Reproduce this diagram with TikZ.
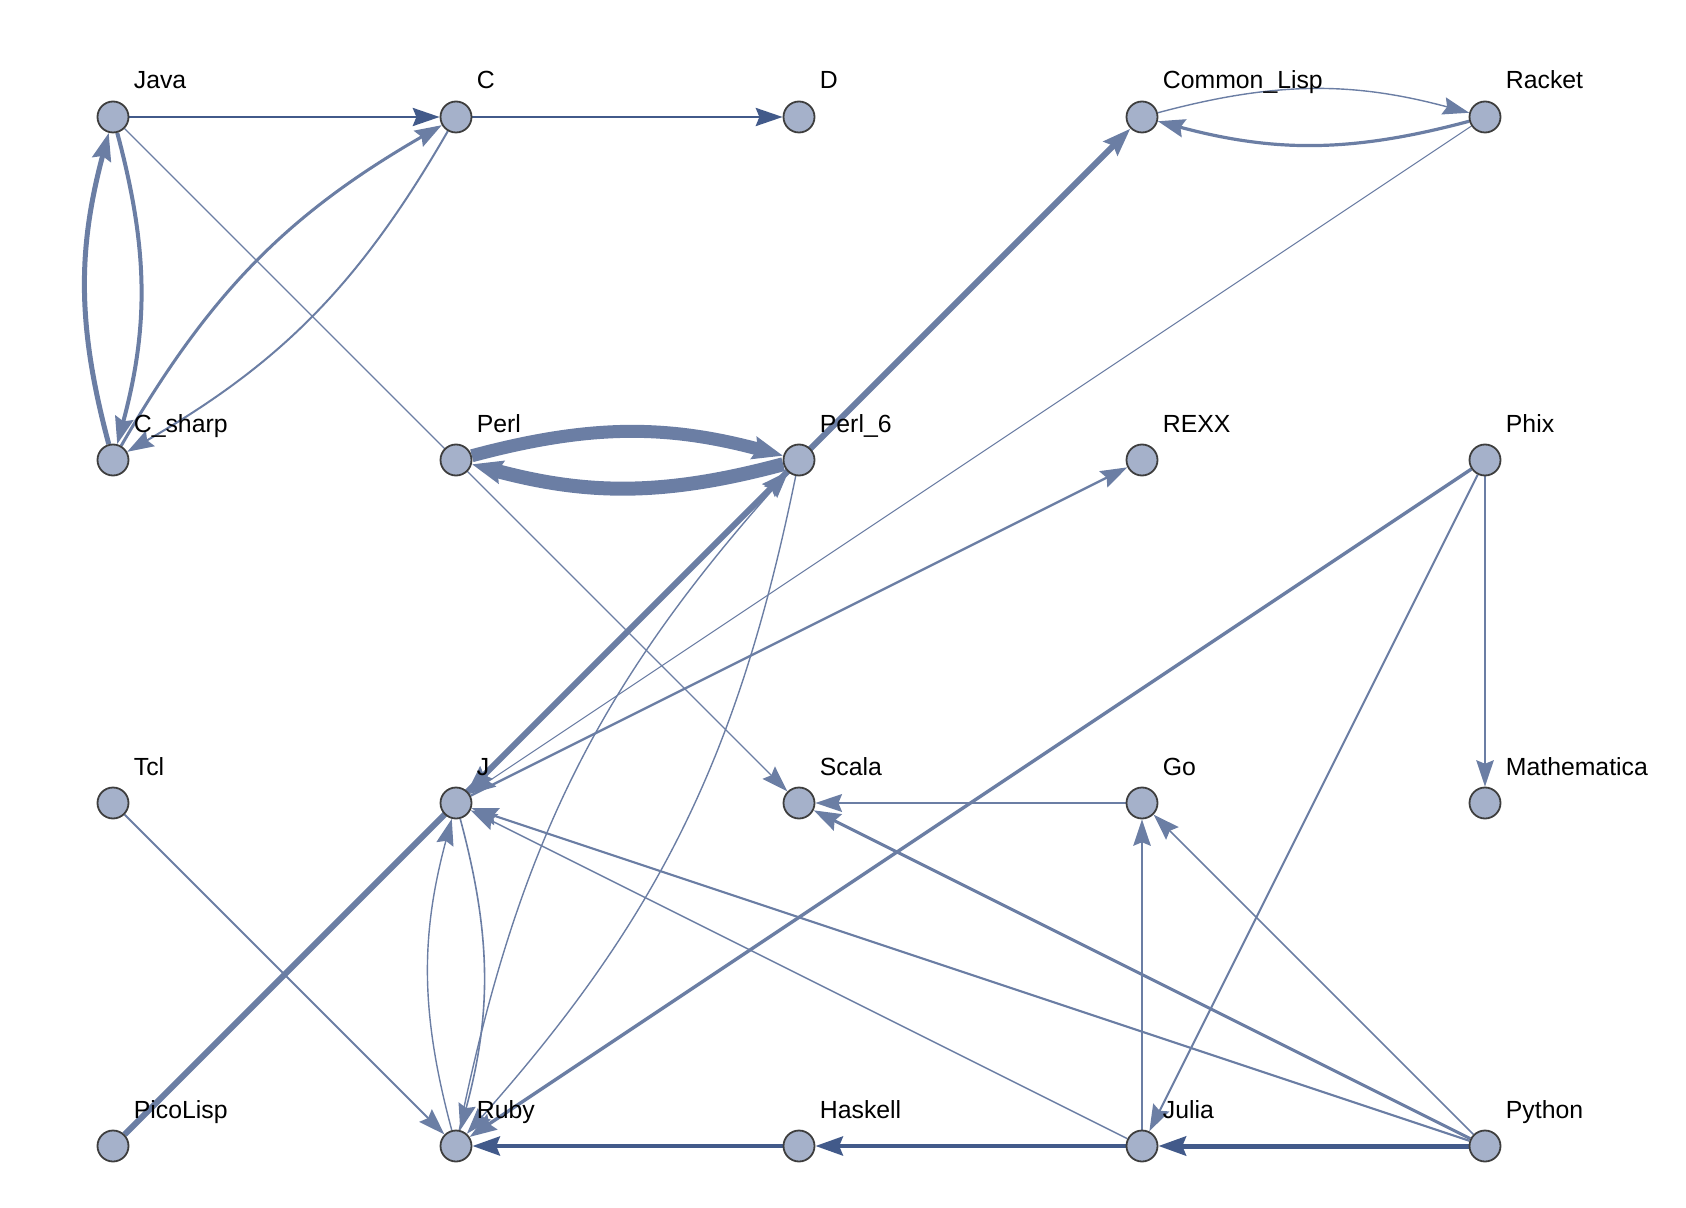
\documentclass[tikz,border=0pt]{standalone}
\usepackage{fontspec}
\setmainfont{Liberation Sans}
\usepackage{xcolor}
\usetikzlibrary{arrows.meta, backgrounds}

\definecolor{vfill}{RGB}{165,177,202}
\definecolor{vline}{RGB}{62,62,62}
\definecolor{elink}{RGB}{107,126,164}
\definecolor{edark}{RGB}{66,90,138}

\begin{document}
\begin{tikzpicture}[
    x=0.5pt, y=-0.5pt,
    font=\fontsize{12.4}{14}\selectfont,
    lang/.style={
        circle, draw=vline, line width=0.9pt, fill=vfill,
        minimum size=15.5pt, inner sep=0pt,
    },
    tag/.style={anchor=base west, xshift=10.25pt, yshift=14pt, inner sep=0pt},
    link/.style={
        draw=elink, line width=#1,
        -{Stealth[length=13pt 0.3, width=8.5pt 0.4, inset=1.8pt]},
    },
    link/.default=0.7pt,
    dlink/.style={link=#1, draw=edark},
    arcpair/.style={bend left=15},
]
\useasboundingbox (0,0) rectangle (1686,1208);

% --- row 1 ---
\node[lang] (java)   at (113,117)  {};
\node[lang] (c)      at (456,117)  {};
\node[lang] (d)      at (799,117)  {};
\node[lang] (clisp)  at (1142,117) {};
\node[lang] (racket) at (1485,117) {};

% --- row 2 ---
\node[lang] (csharp)  at (113,460)  {};
\node[lang] (perl)    at (456,460)  {};
\node[lang] (perlsix) at (799,460)  {};
\node[lang] (rexx)    at (1142,460) {};
\node[lang] (phix)    at (1485,460) {};

% --- row 3 ---
\node[lang] (tcl)   at (113,803)  {};
\node[lang] (j)     at (456,803)  {};
\node[lang] (scala) at (799,803)  {};
\node[lang] (go)    at (1142,803) {};
\node[lang] (mma)   at (1485,803) {};

% --- row 4 ---
\node[lang] (picolisp) at (113,1146)  {};
\node[lang] (ruby)     at (456,1146)  {};
\node[lang] (haskell)  at (799,1146)  {};
\node[lang] (julia)    at (1142,1146) {};
\node[lang] (python)   at (1485,1146) {};

% names
\node[tag] (java-t)     at (java)     {Java};
\node[tag] (c-t)        at (c)        {C};
\node[tag] (d-t)        at (d)        {D};
\node[tag] (clisp-t)    at (clisp)    {Common\_Lisp};
\node[tag] (racket-t)   at (racket)   {Racket};
\node[tag] (csharp-t)   at (csharp)   {C\_sharp};
\node[tag] (perl-t)     at (perl)     {Perl};
\node[tag] (perlsix-t)  at (perlsix)  {Perl\_6};
\node[tag] (rexx-t)     at (rexx)     {REXX};
\node[tag] (phix-t)     at (phix)     {Phix};
\node[tag] (tcl-t)      at (tcl)      {Tcl};
\node[tag] (j-t)        at (j)        {J};
\node[tag] (scala-t)    at (scala)    {Scala};
\node[tag] (go-t)       at (go)       {Go};
\node[tag] (mma-t)      at (mma)      {Mathematica};
\node[tag] (picolisp-t) at (picolisp) {PicoLisp};
\node[tag] (ruby-t)     at (ruby)     {Ruby};
\node[tag] (haskell-t)  at (haskell)  {Haskell};
\node[tag] (julia-t)    at (julia)    {Julia};
\node[tag] (python-t)   at (python)   {Python};

\begin{scope}[on background layer]
% --- upper left block ---
\draw[dlink=1.35pt] (java) -- (c);
\draw[dlink=1.35pt] (c) -- (d);
\draw[link=2pt] (java) to[arcpair] (csharp);
\draw[link=2.5pt] (csharp) to[arcpair] (java);
\draw[link=1.5pt] (csharp) to[arcpair] (c);
\draw[link=1pt] (c) to[arcpair] (csharp);
\draw[link] (java) -- (scala);

% --- perl family and lisps ---
\draw[link=6.5pt] (perl) to[arcpair] (perlsix);
\draw[link=7pt] (perlsix) to[arcpair] (perl);
\draw[link] (clisp) to[arcpair] (racket);
\draw[link=1.6pt] (racket) to[arcpair] (clisp);
\draw[link=3pt] (picolisp) -- (clisp);
\draw[link=1.2pt] (j) -- (perlsix);
\draw[link=1.2pt] (perlsix) -- (j);
\draw[link=0.5pt] (racket) -- (j);
\draw[link=1.2pt] (j) -- (rexx);
\draw[link] (perlsix) to[arcpair] (ruby);
\draw[link] (ruby) to[arcpair] (perlsix);

% --- phix ---
\draw[link=1.7pt] (phix) -- (ruby);
\draw[link=1pt] (phix) -- (julia);
\draw[link] (phix) -- (mma);

% --- lower rows ---
\draw[link=1pt] (go) -- (scala);
\draw[link=1.5pt] (python) -- (scala);
\draw[link=1.1pt] (python) -- (j);
\draw[link] (julia) -- (j);
\draw[link=0.8pt] (python) -- (go);
\draw[link] (julia) -- (go);
\draw[dlink=2.5pt] (python) -- (julia);
\draw[dlink=2.3pt] (julia) -- (haskell);
\draw[dlink=2.3pt] (haskell) -- (ruby);
\draw[link=1pt] (tcl) -- (ruby);
\draw[link=0.8pt] (j) to[arcpair] (ruby);
\draw[link] (ruby) to[arcpair] (j);
\end{scope}

\end{tikzpicture}
\end{document}
